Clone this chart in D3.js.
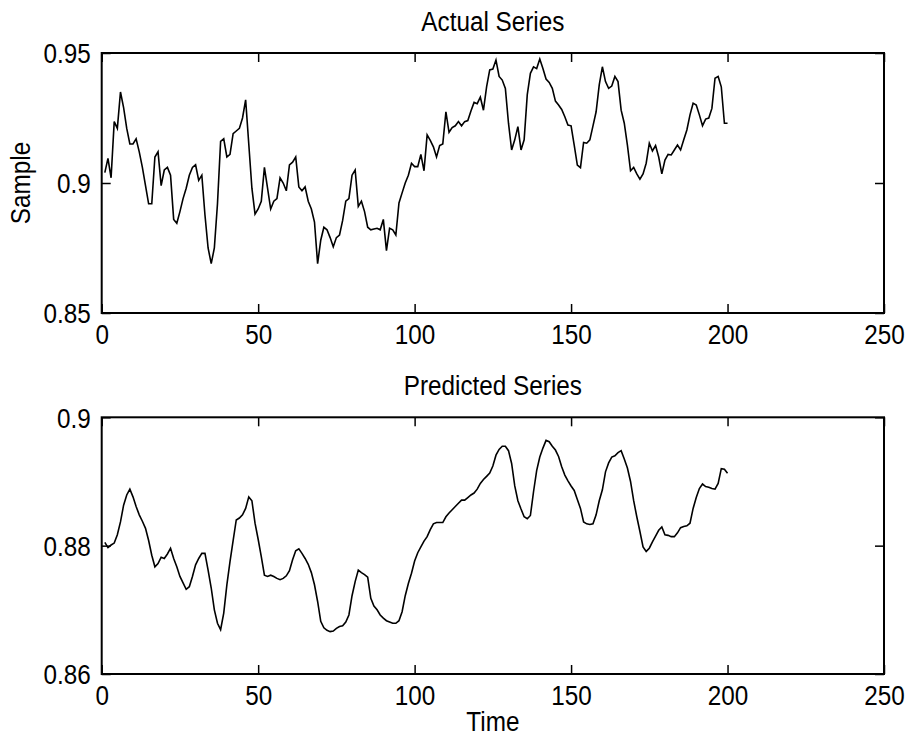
<!DOCTYPE html>
<html>
<head>
<meta charset="utf-8">
<script src="https://cdn.jsdelivr.net/npm/d3@7"></script>
<style>
    body {margin: 0; background: #fff;}
    svg {display: block; font-family: "Liberation Sans", Arial, sans-serif;}
</style>
</head>
<body>
<div id="chart"></div>
<script>
const time = d3.range(1, 201);

const actual = [
    0.904, 0.9095, 0.902, 0.9236, 0.921, 0.935, 0.929, 0.921, 0.915, 0.915,
    0.917, 0.912, 0.906, 0.899, 0.892, 0.892, 0.910, 0.912, 0.899, 0.905,
    0.906, 0.903, 0.886, 0.8845, 0.889, 0.894, 0.898, 0.903, 0.906, 0.907,
    0.901, 0.903, 0.8877, 0.875, 0.869, 0.875, 0.892, 0.916, 0.917, 0.910,
    0.911, 0.919, 0.920, 0.921, 0.925, 0.932, 0.915, 0.898, 0.888, 0.890,
    0.893, 0.906, 0.898, 0.890, 0.893, 0.894, 0.902, 0.900, 0.897, 0.907,
    0.908, 0.910, 0.8985, 0.897, 0.8985, 0.893, 0.890, 0.885, 0.869, 0.878,
    0.883, 0.882, 0.879, 0.8755, 0.879, 0.880, 0.8856, 0.893, 0.894, 0.903,
    0.905, 0.891, 0.893, 0.889, 0.883, 0.882, 0.8823, 0.8826, 0.882, 0.886,
    0.874, 0.8826, 0.882, 0.880, 0.8923, 0.8962, 0.900, 0.903, 0.9076, 0.9063,
    0.9063, 0.911, 0.9047, 0.9185, 0.9164, 0.9139, 0.910, 0.9144, 0.915, 0.9274,
    0.9195, 0.9213, 0.922, 0.9236, 0.922, 0.9236, 0.924, 0.9277, 0.931, 0.9305,
    0.933, 0.928, 0.937, 0.9435, 0.9438, 0.9473, 0.941, 0.9396, 0.9364, 0.923,
    0.9127, 0.9166, 0.9217, 0.9127, 0.9166, 0.934, 0.9422, 0.9447, 0.944, 0.9477,
    0.944, 0.940, 0.9387, 0.9364, 0.9315, 0.930, 0.9283, 0.9255, 0.9223, 0.922,
    0.9146, 0.9069, 0.9059, 0.9156, 0.9153, 0.9166, 0.922, 0.9274, 0.9377, 0.9447,
    0.939, 0.9364, 0.9373, 0.941, 0.939, 0.928, 0.923, 0.9146, 0.9047, 0.906,
    0.9035, 0.9015, 0.9035, 0.9076, 0.9153, 0.9123, 0.9144, 0.910, 0.9035, 0.9088,
    0.911, 0.9108, 0.9127, 0.9146, 0.9127, 0.9166, 0.9204, 0.9262, 0.9307, 0.930,
    0.9262, 0.922, 0.9246, 0.925, 0.9287, 0.9403, 0.941, 0.937, 0.923, 0.923
];

const predicted = [
    0.8805, 0.8797, 0.8801, 0.8804, 0.8817, 0.8837, 0.8863, 0.8879, 0.8888, 0.8876,
    0.8861, 0.8848, 0.8838, 0.8827, 0.8808, 0.8785, 0.8767, 0.8772, 0.8782, 0.8780,
    0.8787, 0.8796, 0.8780, 0.8767, 0.8752, 0.8742, 0.8732, 0.8736, 0.8752, 0.8770,
    0.8780, 0.8788, 0.8788, 0.8762, 0.8734, 0.8700, 0.8679, 0.8669, 0.8695, 0.8739,
    0.8775, 0.8808, 0.8840, 0.8843, 0.8848, 0.8858, 0.8876, 0.8870, 0.8835, 0.8810,
    0.8783, 0.8754, 0.8752, 0.8754, 0.8752, 0.8749, 0.8747, 0.8749, 0.8753, 0.8761,
    0.8778, 0.8792, 0.8795, 0.8788, 0.8780, 0.8771, 0.8758, 0.8739, 0.8713, 0.8682,
    0.8672, 0.8668, 0.8666, 0.8667, 0.8671, 0.8674, 0.8675, 0.8681, 0.8692, 0.8722,
    0.8744, 0.8762, 0.8758, 0.8755, 0.8751, 0.8718, 0.8706, 0.8700, 0.8692, 0.8687,
    0.8683, 0.8681, 0.8679, 0.8679, 0.8683, 0.8697, 0.8722, 0.8741, 0.8757, 0.8776,
    0.8789, 0.8798, 0.8807, 0.8814, 0.8825, 0.8834, 0.8836, 0.8836, 0.8836, 0.8845,
    0.8851, 0.8856, 0.8861, 0.8866, 0.8871, 0.8871, 0.8875, 0.8879, 0.8882, 0.8888,
    0.8897, 0.8903, 0.8908, 0.8913, 0.8924, 0.8941, 0.8950, 0.8955, 0.8955, 0.8948,
    0.8928, 0.8893, 0.8870, 0.8857, 0.8845, 0.8842, 0.8847, 0.8884, 0.8917, 0.8938,
    0.8952, 0.8964, 0.8962, 0.8955, 0.8949, 0.8939, 0.8923, 0.8910, 0.8901, 0.8893,
    0.8886, 0.8872, 0.8858, 0.8837, 0.8834, 0.8833, 0.8834, 0.8848, 0.8870, 0.8887,
    0.8915, 0.8929, 0.8938, 0.8940, 0.8945, 0.8948, 0.8935, 0.8921, 0.8900, 0.8870,
    0.8845, 0.8822, 0.8798, 0.8791, 0.8796, 0.8806, 0.8815, 0.8824, 0.8829, 0.8817,
    0.8816, 0.8814, 0.8814, 0.8820, 0.8828, 0.8830, 0.8831, 0.8835, 0.8858, 0.8875,
    0.8889, 0.8896, 0.8892, 0.8891, 0.8889, 0.8888, 0.8897, 0.8920, 0.8919, 0.8913
];

const xTicks = [0, 50, 100, 150, 200, 250];
const actualTicks = [0.85, 0.9, 0.95];
const predictedTicks = [0.86, 0.88, 0.9];

const width = 908, height = 744;
const plotLeft = 101.7, plotRight = 884;
const fontSize = 27;
const squeeze = 0.9;

const svg = d3.select("#chart").append("svg")
    .attr("width", width)
    .attr("height", height);

// the reference font is a bit narrower than Liberation Sans, so squeeze text horizontally
function condense(text) {
    const x = +text.attr("x") || 0, y = +text.attr("y") || 0;
    text.attr("transform", `translate(${x},${y}) scale(${squeeze},1) translate(${-x},${-y})`);
}

function label(x, y, str, rotate) {
    const t = svg.append("text")
        .attr("x", 0).attr("y", 0)
        .attr("text-anchor", "middle")
        .attr("font-size", fontSize)
        .attr("fill", "#000")
        .text(str);
    t.attr("transform", `translate(${x},${y})${rotate ? " rotate(-90)" : ""} scale(${squeeze},1)`);
}

function panel(values, yDomain, yTicks, top, bottom) {
    const x = d3.scaleLinear().domain([0, 250]).range([plotLeft, plotRight]);
    const y = d3.scaleLinear().domain(yDomain).range([bottom, top]);
    const g = svg.append("g");

    g.append("path").datum(values)
        .attr("fill", "none")
        .attr("stroke", "#000")
        .attr("stroke-width", 1.6)
        .attr("d", d3.line().x((d, i) => x(time[i])).y(d => y(d)));

    const styleAxis = (sel) => {
        sel.select(".domain").remove();
        sel.selectAll(".tick line").attr("stroke", "#000").attr("stroke-width", 1.5);
        sel.selectAll("text").attr("fill", "#000").attr("font-size", fontSize)
            .attr("font-family", "Liberation Sans, Arial, sans-serif");
    };

    const xb = g.append("g").attr("transform", `translate(0,${bottom})`)
        .call(d3.axisBottom(x).tickValues(xTicks).tickSize(-9).tickPadding(12).tickFormat(d => String(d)))
        .call(styleAxis);
    xb.selectAll("text").each(function () { condense(d3.select(this)); });

    g.append("g").attr("transform", `translate(0,${top})`)
        .call(d3.axisTop(x).tickValues(xTicks).tickSize(-9).tickFormat(""))
        .call(styleAxis);

    const yl = g.append("g").attr("transform", `translate(${plotLeft},0)`)
        .call(d3.axisLeft(y).tickValues(yTicks).tickSize(-9).tickPadding(11).tickFormat(d => String(d)))
        .call(styleAxis);
    yl.selectAll("text").attr("dy", "0.36em").each(function () { condense(d3.select(this)); });

    g.append("g").attr("transform", `translate(${plotRight},0)`)
        .call(d3.axisRight(y).tickValues(yTicks).tickSize(-9).tickFormat(""))
        .call(styleAxis);

    g.append("rect")
        .attr("x", plotLeft).attr("y", top)
        .attr("width", plotRight - plotLeft).attr("height", bottom - top)
        .attr("fill", "none")
        .attr("stroke", "#000")
        .attr("stroke-width", 2);
}

panel(actual, [0.85, 0.95], actualTicks, 53, 313);
panel(predicted, [0.86, 0.9], predictedTicks, 417.3, 674);

label((plotLeft + plotRight) / 2, 31, "Actual Series");
label((plotLeft + plotRight) / 2, 395, "Predicted Series");
label((plotLeft + plotRight) / 2, 731, "Time");
label(30, 183, "Sample", true);
</script>
</body>
</html>
